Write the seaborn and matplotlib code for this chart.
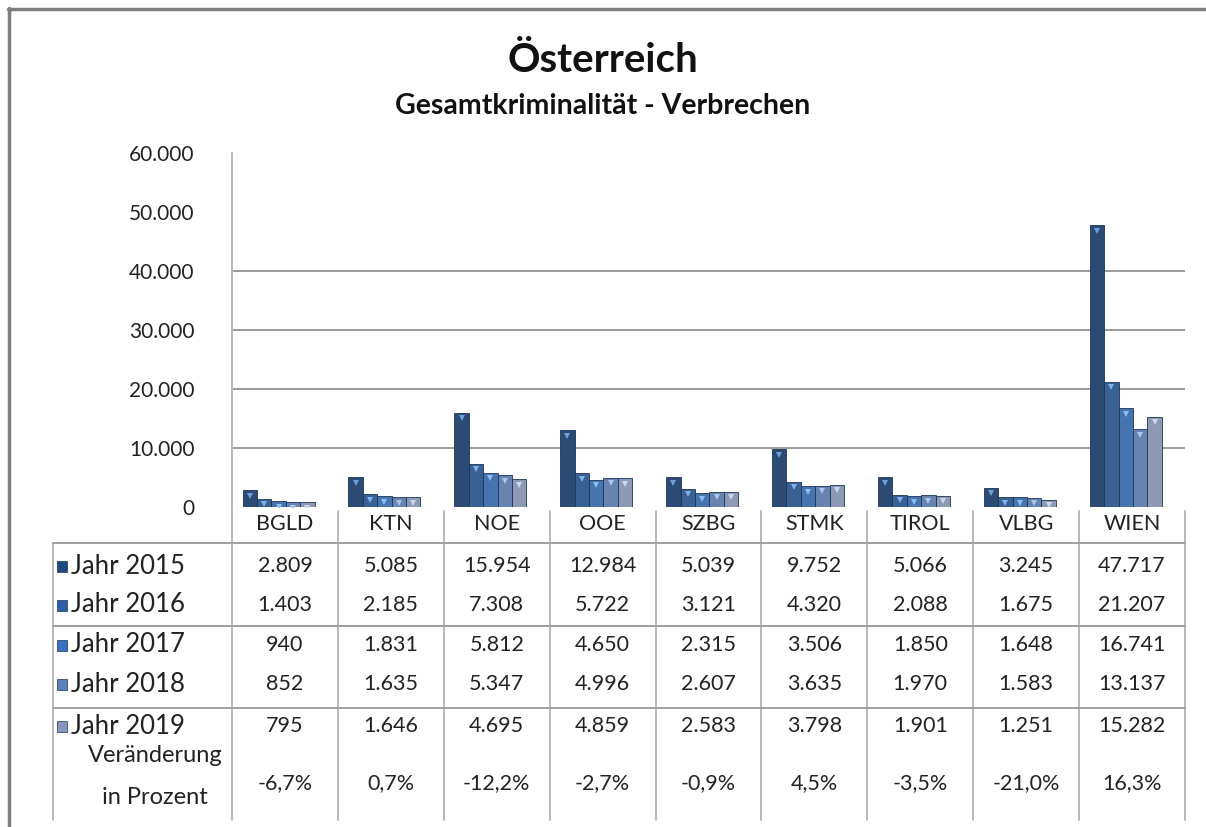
import matplotlib
matplotlib.use("Agg")
import matplotlib.pyplot as plt
import matplotlib.transforms as mtransforms
from matplotlib.lines import Line2D
from matplotlib.patches import Rectangle
import seaborn as sns
import pandas as pd

regions = ["BGLD", "KTN", "NOE", "OOE", "SZBG", "STMK", "TIROL", "VLBG", "WIEN"]
years = ["Jahr 2015", "Jahr 2016", "Jahr 2017", "Jahr 2018", "Jahr 2019"]
v2015 = [2809, 5085, 15954, 12984, 5039, 9752, 5066, 3245, 47717]
v2016 = [1403, 2185, 7308, 5722, 3121, 4320, 2088, 1675, 21207]
v2017 = [940, 1831, 5812, 4650, 2315, 3506, 1850, 1648, 16741]
v2018 = [852, 1635, 5347, 4996, 2607, 3635, 1970, 1583, 13137]
v2019 = [795, 1646, 4695, 4859, 2583, 3798, 1901, 1251, 15282]
change = [-6.7, 0.7, -12.2, -2.7, -0.9, 4.5, -3.5, -21.0, 16.3]
yticks = [0, 10000, 20000, 30000, 40000, 50000, 60000]
colors = ["#1f4a80", "#2a5fa3", "#3572c0", "#5b80bb", "#8797bb"]
highlights = ["#6f9fd8", "#7fb2ea", "#8cc0f2", "#a9c6ee", "#c9d6ee"]

series = [v2015, v2016, v2017, v2018, v2019]
rows = []
for y, vals in zip(years, series):
    for r, v in zip(regions, vals):
        rows.append({"Region": r, "Jahr": y, "Wert": v})
df = pd.DataFrame(rows)

sns.set_style("white")
plt.rcParams["font.family"] = ["Lato", "DejaVu Sans"]

W, H = 1206, 827
fig = plt.figure(figsize=(W / 100, H / 100), dpi=100)

def fx(px):
    return px / W

def fy(py):
    return 1 - py / H

ax_left, ax_right, ax_top, ax_bottom = 232, 1185, 153, 507
ax = fig.add_axes([fx(ax_left), fy(ax_bottom), fx(ax_right - ax_left), (ax_bottom - ax_top) / H])

sns.barplot(data=df, x="Region", y="Wert", hue="Jahr", order=regions, hue_order=years,
            palette=colors, width=0.68, gap=0, ax=ax, legend=False,
            edgecolor="#1b3558", linewidth=0.6)

# small bevel highlight at each bar top (positions taken from the drawn bars)
shift = mtransforms.offset_copy(ax.transData, fig=fig, x=0, y=-4, units="points")
for k, cont in enumerate(ax.containers):
    xs = [p.get_x() + p.get_width() / 2 for p in cont.patches]
    hs = [p.get_height() for p in cont.patches]
    ax.plot(xs, hs, linestyle="none", marker="v", markersize=5, color=highlights[k],
            markeredgewidth=0, transform=shift, zorder=5)

ax.set_xlim(-0.44, len(regions) - 0.44)
ax.set_ylim(0, 60000)
ax.set_yticks(yticks)
ax.set_yticklabels([f"{t:,}".replace(",", ".") for t in yticks], fontsize=15, color="#222222")
ax.tick_params(axis="y", length=0, pad=27)
ax.set_xticks([])
ax.set_xlabel("")
ax.set_ylabel("")
ax.yaxis.grid(True, color="#8a8a8a", linewidth=1.2)
for t, gl in zip(yticks, ax.yaxis.get_gridlines()):
    if t in (0, 50000, 60000):
        gl.set_visible(False)
ax.set_axisbelow(True)
for s in ["top", "right", "bottom", "left"]:
    ax.spines[s].set_visible(False)

# Title
fig.text(0.5, fy(60), "Österreich", ha="center", va="center", fontsize=29, fontweight="bold", color="#111111")
fig.text(0.5, fy(106), "Gesamtkriminalität - Verbrechen", ha="center", va="center", fontsize=20.5,
         fontweight="bold", color="#111111")

# Outer frame
fig.add_artist(Line2D([fx(9), fx(9)], [fy(8), 0], transform=fig.transFigure, color="#7f7f7f", lw=2.5))
fig.add_artist(Line2D([fx(8), 1], [fy(9), fy(9)], transform=fig.transFigure, color="#7f7f7f", lw=2.5))

# Data table (column boundaries follow category slots in pixel space)
tab_left, tab_bottom = 53, 820
ncol = len(regions)
colw = (ax_right - ax_left) / ncol
vis = "#b8b8b8"
fig.add_artist(Line2D([fx(ax_left), fx(ax_left)], [fy(153), fy(tab_bottom)], transform=fig.transFigure,
                      color=vis, lw=1.4))
for i in range(1, ncol + 1):
    xb = ax_left + i * colw
    fig.add_artist(Line2D([fx(xb), fx(xb)], [fy(ax_bottom + 4), fy(tab_bottom)], transform=fig.transFigure,
                          color=vis, lw=1.4))
fig.add_artist(Line2D([fx(tab_left), fx(tab_left)], [fy(543), fy(tab_bottom)], transform=fig.transFigure,
                      color=vis, lw=1.4))
for yl in (543, 626, 708):
    fig.add_artist(Line2D([fx(tab_left), fx(ax_right)], [fy(yl), fy(yl)], transform=fig.transFigure,
                          color="#a0a0a0", lw=1.4))

def colx(i):
    return fx(ax_left + (i + 0.5) * colw)

for i, r in enumerate(regions):
    fig.text(colx(i), fy(524), r, ha="center", va="center", fontsize=15.5, color="#222222")

row_y = [566, 605, 645, 684, 726]
for k, (name, vals) in enumerate(zip(years, series)):
    yy = fy(row_y[k])
    fig.add_artist(Rectangle((fx(57), yy - 5.5 / H), 10 / W, 11 / H, transform=fig.transFigure,
                             facecolor=colors[k], edgecolor="#1b3558", lw=0.5))
    fig.text(fx(71), yy, name, ha="left", va="center", fontsize=18.5, color="#222222")
    for i, v in enumerate(vals):
        fig.text(colx(i), yy, f"{v:,}".replace(",", "."), ha="center", va="center",
                 fontsize=15.5, color="#222222")

fig.text(fx(155), fy(756), "Veränderung", ha="center", va="center", fontsize=17, color="#222222")
fig.text(fx(155), fy(797), "in Prozent", ha="center", va="center", fontsize=17, color="#222222")
for i, c in enumerate(change):
    fig.text(colx(i), fy(783), f"{c:.1f}%".replace(".", ","), ha="center", va="center",
             fontsize=15.5, color="#222222")

fig.savefig("out.png", dpi=100, facecolor="white")
